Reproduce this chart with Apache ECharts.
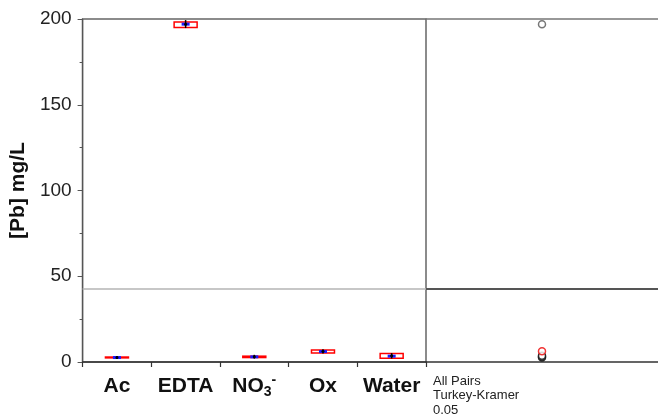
<!DOCTYPE html>
<html>
<head>
<meta charset="utf-8">
<script src="https://cdn.jsdelivr.net/npm/echarts@6/dist/echarts.min.js"></script>
<style>html,body{margin:0;padding:0;background:#fff}#c{width:658px;height:417px}</style>
</head>
<body>
<div id="c"></div>
<script>
const categories = ['Ac', 'EDTA', 'NO3', 'Ox', 'Water'];
const q1     = [2.4, 195.0, 2.6, 5.3, 2.2];
const q3     = [2.9, 198.3, 3.4, 7.0, 5.0];
const median = [2.6, 197.0, 3.0, 6.1, 3.4];
const means  = [2.6, 197.0, 3.1, 6.2, 3.6];
const ciLo   = [2.3, 195.3, 2.6, 5.6, 2.6];
const ciHi   = [2.9, 198.8, 3.6, 6.8, 4.6];
const yTicks = [0, 50, 100, 150, 200];
const circleColors = ['#111', '#555', '#111', '#e00', '#111'];
const circleOrder = [0, 2, 4, 1, 3];
const grandMean = means.reduce((a, b) => a + b, 0) / means.length;

const chart = echarts.init(document.getElementById('c'));
const font = 'Arial, "Liberation Sans", sans-serif';

function renderBox(params, api) {
  const i = api.value(0);
  const top = api.coord([i, api.value(2)]);
  const bot = api.coord([i, api.value(1)]);
  const med = api.coord([i, api.value(3)]);
  const mn = api.coord([i, api.value(4)]);
  const lo = api.coord([i, api.value(5)]);
  const hi = api.coord([i, api.value(6)]);
  const w = 23;
  const x = top[0];
  return {
    type: 'group',
    children: [
      { type: 'rect', shape: { x: x - w / 2, y: top[1], width: w, height: Math.max(bot[1] - top[1], 0.5) },
        style: { fill: 'none', stroke: '#f00', lineWidth: 1.5 } },
      { type: 'rect', shape: { x: x - 4, y: med[1] - 1.5, width: 8, height: 3 },
        style: { fill: '#1a1aff' } },
      { type: 'line', shape: { x1: x, y1: hi[1] - 1, x2: x, y2: lo[1] + 1 },
        style: { stroke: '#000', lineWidth: 1.5 } },
      { type: 'circle', shape: { cx: x, cy: mn[1], r: 1.5 }, style: { fill: '#000' } }
    ]
  };
}

const boxData = categories.map((c, i) => [i, q1[i], q3[i], median[i], means[i], ciLo[i], ciHi[i]]);
const circleData = circleOrder.map(i => ({
  value: [0.5, means[i]],
  itemStyle: { borderColor: circleColors[i], color: '#fff', borderWidth: 1.5 }
}));

chart.setOption({
  animation: false,
  title: {
    text: 'All Pairs\nTurkey-Kramer\n0.05',
    left: 433, top: 374, padding: 0,
    textStyle: { fontFamily: font, fontSize: 13, fontWeight: 'normal', color: '#222', lineHeight: 14.5 }
  },
  grid: [
    { left: 81, right: 232, top: 19, bottom: 55, show: true, borderColor: '#666', borderWidth: 1.5 },
    { left: 426, right: 0, top: 19, bottom: 55, show: false }
  ],
  xAxis: [
    {
      type: 'category', gridIndex: 0, data: categories, boundaryGap: true,
      axisLine: { lineStyle: { color: '#333', width: 1.5 } },
      axisTick: { show: true, interval: 0, length: 5, lineStyle: { color: '#333', width: 1.2 } },
      axisLabel: {
        interval: 0, margin: 9, fontFamily: font, fontSize: 21, fontWeight: 'bold', color: '#111',
        lineHeight: 30,
        formatter: v => v === 'NO3' ? 'NO{sub|3}{sup|-}' : v,
        rich: {
          sub: { fontFamily: font, fontSize: 14, fontWeight: 'bold', color: '#111', lineHeight: 14, padding: [12, 0, 0, 0] },
          sup: { fontFamily: font, fontSize: 14, fontWeight: 'bold', color: '#111', lineHeight: 14, padding: [0, 0, 12, 0] }
        }
      }
    },
    {
      type: 'value', gridIndex: 1, min: 0, max: 1,
      axisLine: { show: true, onZero: false, lineStyle: { color: '#333', width: 1.5 } },
      axisTick: { show: false }, axisLabel: { show: false }, splitLine: { show: false }
    },
    {
      type: 'value', gridIndex: 1, min: 0, max: 1, position: 'top',
      axisLine: { show: true, onZero: false, lineStyle: { color: '#777', width: 1.5 } },
      axisTick: { show: false }, axisLabel: { show: false }, splitLine: { show: false }
    }
  ],
  yAxis: [
    {
      type: 'value', gridIndex: 0, min: 0, max: 200, interval: 50,
      name: '[Pb] mg/L', nameLocation: 'middle', nameGap: 47,
      nameTextStyle: { fontFamily: font, fontSize: 21, fontWeight: 'bold', color: '#111' },
      axisLine: { show: true, lineStyle: { color: '#555', width: 1.2 } },
      axisTick: { show: true, length: 5, lineStyle: { color: '#555' } },
      minorTick: { show: true, splitNumber: 2, length: 3, lineStyle: { color: '#555' } },
      axisLabel: { margin: 11, fontFamily: font, fontSize: 19, color: '#222',
        formatter: v => yTicks.includes(v) ? String(v) : '' },
      splitLine: { show: false }
    },
    {
      type: 'value', gridIndex: 1, min: 0, max: 200, interval: 50,
      axisLine: { show: false }, axisTick: { show: false }, axisLabel: { show: false }, splitLine: { show: false }
    }
  ],
  series: [
    {
      type: 'custom', xAxisIndex: 0, yAxisIndex: 0, data: boxData, renderItem: renderBox, z: 5,
      markLine: {
        silent: true, symbol: 'none', label: { show: false },
        lineStyle: { color: '#b5b5b5', width: 1.5, type: 'solid' },
        data: [{ yAxis: grandMean }]
      }
    },
    {
      type: 'scatter', xAxisIndex: 1, yAxisIndex: 1, data: circleData,
      symbol: 'circle', symbolSize: 7, z: 5,
      markLine: {
        silent: true, symbol: 'none', label: { show: false },
        lineStyle: { color: '#555', width: 2, type: 'solid' },
        data: [{ yAxis: grandMean }]
      }
    }
  ]
});
</script>
</body>
</html>
